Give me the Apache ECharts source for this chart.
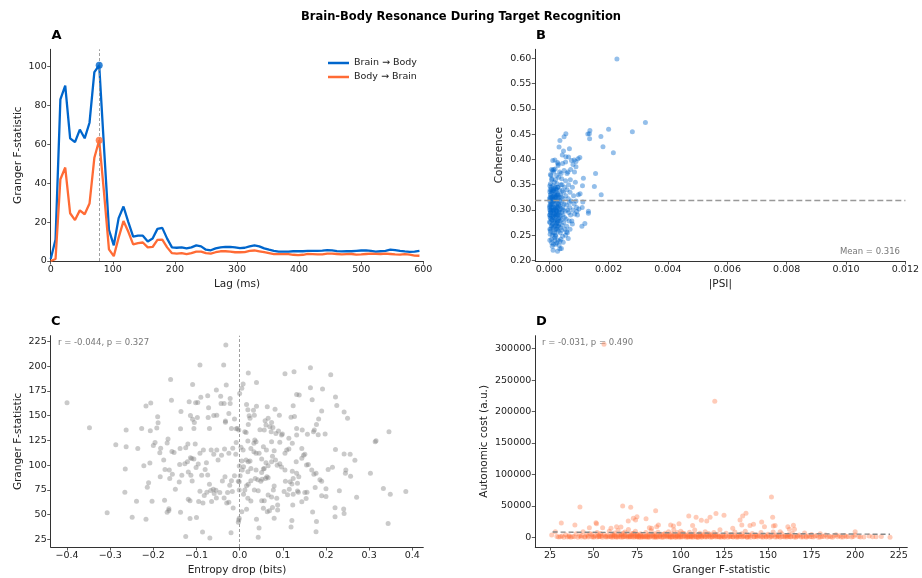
<!DOCTYPE html>
<html><head><meta charset="utf-8">
<script src="https://cdn.jsdelivr.net/npm/echarts@6/dist/echarts.min.js"></script>
<style>html,body{margin:0;padding:0;background:#fff}#c{width:922px;height:578px}</style>
</head><body><div id="c"></div>
<script>
// ---------- Panel A: Granger F-statistic by lag ----------
const lags = [0,7.8,15.6,23.4,31.3,39.1,46.9,54.7,62.5,70.3,78.1,85.9,93.8,101.6,109.4,117.2,125,132.8,140.6,148.4,156.3,164.1,171.9,179.7,187.5,195.3,203.1,210.9,218.8,226.6,234.4,242.2,250,257.8,265.6,273.4,281.3,289.1,296.9,304.7,312.5,320.3,328.1,335.9,343.8,351.6,359.4,367.2,375,382.8,390.6,398.4,406.3,414.1,421.9,429.7,437.5,445.3,453.1,460.9,468.8,476.6,484.4,492.2,500,507.8,515.6,523.4,531.3,539.1,546.9,554.7,562.5,570.3,578.1,585.9,593.8];
const brainToBody = [1,11,83,90,63,61,67.5,63,71,97,100.5,58,16,8,22,28,20,12.5,13,13,10,11.5,16.5,17,11.5,7,6.8,7,6.5,7,8,7.5,5.8,5.5,6.5,7,7.2,7.2,7,6.6,6.8,7.5,8,7.5,6.5,5.8,5.2,4.8,4.8,4.8,5,5,5,5.2,5.2,5.2,5.3,5.6,5.5,5.1,4.9,5,5,5.2,5.4,5.5,5.2,4.8,5,5.2,5.8,5.6,5.2,4.9,4.7,4.8,5.2];
const bodyToBrain = [0,1,42,48,24.5,21,26,24,29.5,53,62,35,6,2.5,12,20.5,15,8.5,9.2,9.5,7,7.2,10.8,11,7,4,3.8,4,3.5,4,4.8,4.8,4,3.8,4.5,5,5,4.8,4.5,4.5,4.6,5.2,5.4,5,4.5,4,3.5,3.5,3.5,3.5,3.2,3,3.2,3.6,3.5,3.4,3.4,3.8,3.8,3.6,3.4,3.5,3.6,3.3,3.4,3.6,3.8,3.7,3.6,3.8,3.6,3.4,3.3,3.5,3.3,2.8,2.7];
const seriesNames = ['Brain \u2192 Body', 'Body \u2192 Brain'];
const ticksAx = [0,100,200,300,400,500,600];
const ticksAy = [0,20,40,60,80,100];

// ---------- Panel B: |PSI| vs coherence ----------
const panelBPoints = [
[0.00228,0.5987],[0.00324,0.4733],[0.0028,0.4548],[0.002,0.46],[0.00135,0.4508],[0.0013,0.4502],[0.00137,0.4574],[0.00174,0.4455],[0.00136,0.4409],[0.00181,0.4251],[0.00216,0.4132],[0.00156,0.3723],[0.00152,0.3465],[0.00175,0.33],[0.00115,0.363],[0.0012,0.2733],[0.0011,0.268],[0.00132,0.2977],[0.00132,0.2937],[0.00112,0.3479],[0.00104,0.332],[0.00111,0.305],[0.00113,0.316],[0.00093,0.297],[0.001,0.3017],[0.00103,0.404],[0.00097,0.4013],[0.0009,0.396],[0.00084,0.3987],[0.0009,0.3855],[0.00056,0.4508],[0.0005,0.4449],[0.00036,0.4376],[0.00033,0.4244],[0.00068,0.4211],[0.00048,0.4165],[0.00056,0.4053],[0.00044,0.4086],[0.00019,0.3987],[0.0003,0.3908],
[0.00002,0.300],[0.00003,0.285],[0.00004,0.330],[0.00002,0.318],[0.00005,0.262],[0.00003,0.275],[0.00006,0.345],[0.00004,0.352],[0.00002,0.308],[0.00005,0.295],[0.00007,0.312],[0.00003,0.340],[0.00006,0.368],[0.00004,0.258],[0.00008,0.280],[0.00005,0.323],[0.00009,0.335],[0.00007,0.298],[0.00003,0.290],[0.00006,0.305],[0.00010,0.250],[0.00008,0.242],[0.00009,0.362],[0.00011,0.378],[0.00012,0.326],[0.00010,0.315],[0.00013,0.288],[0.00011,0.272],[0.00014,0.338],[0.00012,0.348],[0.00015,0.300],[0.00013,0.265],[0.00016,0.320],[0.00014,0.232],[0.00017,0.355],[0.00015,0.380],[0.00018,0.310],[0.00016,0.278],[0.00019,0.330],[0.00017,0.293],[0.00020,0.345],[0.00018,0.255],[0.00021,0.302],[0.00019,0.285],[0.00022,0.270],[0.00020,0.318],[0.00023,0.335],[0.00021,0.360],[0.00024,0.292],[0.00022,0.248],[0.00025,0.308],[0.00023,0.325],[0.00026,0.280],[0.00024,0.340],[0.00027,0.262],[0.00025,0.298],[0.00028,0.315],[0.00026,0.352],[0.00029,0.305],[0.00027,0.275],[0.00030,0.330],[0.00028,0.290],[0.00031,0.268],[0.00029,0.345],[0.00032,0.312],[0.00030,0.258],[0.00033,0.300],[0.00031,0.322],[0.00034,0.285],[0.00032,0.365],[0.00035,0.340],[0.00033,0.272],[0.00036,0.318],[0.00034,0.296],[0.00037,0.255],[0.00035,0.308],[0.00038,0.330],[0.00036,0.278],[0.00039,0.350],[0.00037,0.288],[0.00040,0.303],[0.00038,0.265],[0.00041,0.325],[0.00039,0.242],[0.00042,0.295],[0.00040,0.372],[0.00043,0.315],[0.00041,0.280],[0.00044,0.338],[0.00042,0.260],[0.00045,0.305],[0.00043,0.350],[0.00046,0.290],[0.00044,0.270],[0.00047,0.322],[0.00045,0.248],[0.00048,0.335],[0.00046,0.300],[0.00050,0.312],[0.00049,0.275],[0.00052,0.345],[0.00051,0.285],[0.00054,0.298],[0.00053,0.262],[0.00056,0.328],[0.00055,0.358],[0.00058,0.310],[0.00057,0.282],[0.00060,0.340],[0.00059,0.268],[0.00062,0.300],[0.00061,0.255],[0.00064,0.322],[0.00063,0.375],[0.00066,0.295],[0.00065,0.350],[0.00068,0.315],[0.00067,0.278],[0.00070,0.335],[0.00069,0.305],[0.00072,0.290],[0.00071,0.360],[0.00074,0.318],[0.00076,0.278],[0.00078,0.345],[0.00080,0.300],[0.00082,0.328],[0.00084,0.312],[0.00086,0.292],[0.00088,0.355],[0.00090,0.318],[0.00092,0.305],[0.00095,0.290],[0.00098,0.330],
[0.00001,0.322],[0.00002,0.336],[0.00001,0.290],[0.00003,0.310],[0.00001,0.276],[0.00002,0.262],[0.00004,0.300],[0.00002,0.348],[0.00001,0.305],[0.00003,0.325],[0.00005,0.283],[0.00002,0.240],[0.00004,0.370],[0.00006,0.332],[0.00003,0.252],[0.00005,0.315],[0.00007,0.268],[0.00004,0.295],[0.00008,0.325],[0.00006,0.288],[0.00009,0.305],[0.00007,0.340],[0.00010,0.280],[0.00008,0.360],[0.00011,0.298],[0.00009,0.270],[0.00012,0.312],[0.00010,0.338],[0.00013,0.255],[0.00011,0.322],[0.00014,0.295],[0.00012,0.285],[0.00015,0.342],[0.00013,0.305],[0.00016,0.268],[0.00014,0.318],[0.00017,0.290],[0.00015,0.328],[0.00018,0.245],[0.00016,0.300],[0.00019,0.275],[0.00017,0.338],[0.00020,0.262],[0.00018,0.325],[0.00021,0.290],[0.00019,0.305],[0.00022,0.328],[0.00020,0.280],[0.00023,0.300],[0.00021,0.250],[0.00024,0.318],[0.00022,0.342],[0.00025,0.272],[0.00023,0.288],[0.00026,0.330],[0.00024,0.262],[0.00027,0.305],[0.00025,0.235],[0.00028,0.345],[0.00026,0.298],[0.00029,0.278],[0.00027,0.322],[0.00030,0.290],[0.00028,0.268],[0.00031,0.310],[0.00029,0.332],[0.00032,0.282],[0.00030,0.240],[0.00033,0.325],[0.00031,0.295],
[0.00013,0.2205],[0.00028,0.2185],[0.00036,0.223],[0.00041,0.2238],[0.00019,0.240],[0.00036,0.238],[0.00064,0.2436],[0.00058,0.2568],[0.00010,0.228],[0.00022,0.232],[0.00033,0.230],[0.00008,0.235],[0.00047,0.236],[0.00055,0.250],[0.00070,0.262],[0.00078,0.272],
[0.00008,0.380],[0.00015,0.375],[0.00020,0.381],[0.00025,0.368],[0.00030,0.388],[0.00035,0.375],[0.00042,0.362],[0.00050,0.378],[0.00055,0.395],[0.00060,0.372],[0.00072,0.380],[0.00080,0.390],[0.00085,0.375],[0.00075,0.398],[0.00065,0.405],[0.00045,0.392],[0.00012,0.398],[0.00028,0.394]
];
const coherenceMean = 0.316;
const ticksBx = [0,0.002,0.004,0.006,0.008,0.010,0.012];
const ticksBy = [0.20,0.25,0.30,0.35,0.40,0.45,0.50,0.55,0.60];

// ---------- Panel C: entropy drop vs Granger F ----------
const panelCPoints = [
[-0.032,221.3],[-0.092,201],[-0.037,201],[-0.16,186.5],[-0.109,181.5],[-0.054,175.8],[-0.031,180.8],[-0.4,163],[-0.217,159.6],[-0.206,162.6],[-0.158,165.6],[-0.117,164],[-0.102,163],[-0.097,163.3],[-0.09,168.4],[-0.074,170],[-0.043,162.3],[-0.036,162.3],[-0.022,162.3],[-0.022,167.3],[-0.044,169.4],[-0.19,148.8],[-0.189,142.7],[-0.136,154],[-0.114,150],[-0.109,146.2],[-0.105,143.1],[-0.098,148],[-0.072,158],[-0.073,148],[-0.06,150],[-0.053,150.2],[-0.033,144.6],[-0.033,143.2],[-0.025,152.2],[-0.012,146.5],[-0.348,137.7],[-0.263,135.3],[-0.227,137],[-0.207,134.7],[-0.192,137.4],[-0.137,136.7],[-0.106,137],[-0.07,137],[-0.019,137],[-0.008,136.7],[-0.287,120.5],[-0.263,118.6],[-0.236,116.8],[-0.265,96],[-0.266,72.5],[-0.307,51.8],[-0.249,47.3],[-0.217,45.3],[-0.222,99.4],[-0.208,102],[-0.211,82],[-0.214,77.6],[-0.203,63.4],[-0.239,63.4],[-0.196,122.7],[-0.2,119.7],[-0.183,117],[-0.168,122.3],[-0.166,126.4],[-0.185,112.4],[-0.176,105.2],[-0.157,113.7],[-0.152,112.7],[-0.138,116.8],[-0.125,117.5],[-0.12,121.2],[-0.103,121.2],[-0.139,100.6],[-0.127,101.4],[-0.121,103.4],[-0.114,107.4],[-0.111,106.5],[-0.106,106],[-0.096,101],[-0.092,111.8],[-0.084,115.1],[-0.077,102.4],[-0.066,115.1],[-0.06,111],[-0.053,115.1],[-0.05,105],[-0.042,110],[-0.035,116.3],[-0.025,111.9],[-0.016,117],[-0.009,110.9],[-0.008,122.9],[-0.005,137],[-0.173,95.6],[-0.163,94.9],[-0.162,86.5],[-0.184,88.1],[-0.156,90.7],[-0.149,75.5],[-0.14,82.8],[-0.134,89.6],[-0.119,93],[-0.119,65.4],[-0.113,89.6],[-0.11,84],[-0.101,97.5],[-0.092,73.5],[-0.088,89.6],[-0.08,95.6],[-0.076,72.5],[-0.074,89.9],[-0.07,80.6],[-0.067,74.2],[-0.061,75.6],[-0.055,74.6],[-0.046,72.3],[-0.04,83.8],[-0.034,88.2],[-0.028,72.3],[-0.023,79.7],[-0.017,73.4],[-0.012,89.2],[-0.019,84.2],[-0.003,83.7],[-0.174,64.5],[-0.164,55.8],[-0.168,52.4],[-0.164,54.1],[-0.137,52.4],[-0.115,64],[-0.115,46.1],[-0.1,47],[-0.095,63.2],[-0.085,61.7],[-0.082,69.2],[-0.065,63.2],[-0.059,71.2],[-0.054,66.8],[-0.036,66.8],[-0.03,61.7],[-0.025,62.3],[-0.015,56.6],[-0.086,32.4],[-0.069,26.4],[-0.125,27.8],[-0.02,31.7],[-0.002,44.5],
[0.02,193],[0.105,192.3],[0.126,194.3],[0.164,198.4],[0.211,191.3],[0.039,183.5],[0.008,181.9],[0.005,177.5],[0,172.4],[0.132,171.4],[0.138,170.7],[0.164,178.1],[0.192,176.8],[0.168,166],[0.222,168.7],[0.225,160.2],[0.124,159.9],[0.016,161.3],[0.019,156],[0.032,155.5],[0.039,159.5],[0.064,158.8],[0.082,156.5],[0.19,154.5],[0.242,153.5],[0.25,147.4],[0.119,148.4],[0.127,149.1],[0.092,150.4],[0.022,149.8],[0.034,150.4],[0.024,147.2],[0.059,144.8],[0.066,147.2],[0.074,143.1],[0.061,140.4],[0.07,138.8],[0.077,138],[0.183,146.5],[0.178,141.1],[0.173,135.4],[0.171,133.7],[0.198,131.4],[0.182,130.7],[0.132,137],[0.145,135.4],[0.157,131],[-0.002,135.4],[0.02,141.1],[0.015,132.8],[0.012,133.6],[0.047,135.6],[0.057,135.4],[0.073,133.7],[0.084,132],[0.09,134.4],[0.097,130.4],[0.099,131.4],[0.114,127],[0.132,130.4],[0.122,122],[0.093,123],[0.074,123.6],[0.035,125.2],[0.038,123.6],[0.033,122],[0.019,124.2],[0.003,117.9],[0.008,115.1],[0.026,116.8],[0.055,118.5],[0.062,115.1],[0.08,114.5],[0.109,115.1],[0.114,116.1],[0.105,111.9],[0.144,116.8],[0.148,110],[0.222,115.8],[0.242,111.2],[0.256,110.8],[0.267,104.8],[0.314,123.6],[0.316,124.5],[0.346,133.7],[0.303,91.6],[0.333,76.4],[0.349,70.4],[0.385,73.4],[0.344,41],[0.271,67.4],[0.257,88.6],[0.245,91.6],[0.246,94.9],[0.231,74],[0.241,55.5],[0.242,51.1],[0.221,56.8],[0.221,47.7],[0.215,97.7],[0.205,95.6],[0.2,76.1],[0.19,83.6],[0.186,85.1],[0.175,77.3],[0.19,68.9],[0.2,68.2],[0.172,90.6],[0.177,91.6],[0.167,95],[0.155,100],[0.159,100.6],[0.151,110.8],[0.144,106.8],[0.131,103.4],[0.132,91.6],[0.137,88.2],[0.134,81.6],[0.122,93.8],[0.124,86.5],[0.121,80.9],[0.117,83.1],[0.115,75.6],[0.134,73.8],[0.136,72.5],[0.151,72.2],[0.156,72.5],[0.154,66.1],[0.144,63],[0.124,70.6],[0.111,70],[0.103,73.4],[0.106,83.7],[0.105,94.9],[0.097,98],[0.093,101.4],[0.087,99.8],[0.083,105],[0.076,108.9],[0.074,103.4],[0.066,99.4],[0.061,102.4],[0.057,96.6],[0.051,106],[0.045,111.8],[0.038,111.8],[0.033,113.5],[0.024,104.1],[0.02,103.4],[0.015,105],[0.005,104.1],[-0.001,99.1],[0.009,98.4],[0.006,95],[0.019,93.3],[0.026,96.6],[0.038,95],[0.051,92.6],[0.055,96],[0.063,88.2],[0.066,87.2],[0.06,86.3],[0.052,85.7],[0.049,83.6],[0.042,85.1],[0.036,86.5],[0.026,84.2],[0.02,80.6],[0.016,79.1],[0.001,89.3],[-0.001,83.1],[0.012,74.9],[-0.001,74.9],[0.009,70.6],[0.019,66.4],[0.026,63.7],[0.034,74.9],[0.043,74],[0.051,63.9],[0.057,63.9],[0.066,69.7],[0.074,67.8],[0.078,74.9],[0.08,78.8],[0.086,66.4],[0.088,59.6],[0.076,57],[0.069,53.9],[0.064,52.9],[0.055,56.3],[0.08,46.3],[0.121,44],[0.119,37.5],[0.039,45.2],[0.045,36.3],[0.043,27],[-0.001,46.3],[-0.003,42.3],[0.169,52.5],[0.178,43],[0.177,32.6],[0.016,55.4],[0.005,52.9],[0.088,54.5],[0.123,59.6]
];
const ticksCx = [-0.4,-0.3,-0.2,-0.1,0,0.1,0.2,0.3,0.4];
const ticksCy = [25,50,75,100,125,150,175,200,225];
const statsC = 'r = -0.044, p = 0.327';

// ---------- Panel D: Granger F vs autonomic cost ----------
const panelDPoints = [
[56,307000],[119.5,216400],[152,64200],[42.2,48300],[66.7,49900],[71.3,47700],[85.6,42400],[31.5,22800],[39.3,19600],[47.6,15400],[51.4,23300],[51.7,21700],[55.2,15400],[60,14300],[63.2,17000],[65.7,16400],[69.9,26000],[72.8,30200],[74.9,32900],[74.1,27600],[80.1,29700],[82,15400],[83.3,14300],[87.2,19600],[86.2,17000],[94.2,19600],[95.8,18000],[99,21700],[104.6,33900],[108.8,31800],[106.8,18600],[111.8,27000],[114.9,26000],[116.8,31800],[120.2,37700],[124.8,35000],[122.5,12200],[129.8,14300],[134,27600],[135.5,33900],[137.4,38200],[135,19600],[139.7,18600],[141.7,20700],[146.4,24400],[148,17000],[152.7,31800],[153.1,18000],[154.1,18600],[157,9000],[161.4,17000],[162.3,12700],[164.6,19100],[165.2,12700],[200,9000],[220,0],[26,3700],[28.1,9000],
[29,1500],[31,800],[33,200],[34,4000],[35,600],[36,2500],[37,300],[38,1200],[40,5500],[41,300],[42,2000],[43,700],[44,9000],[45,1500],[46,3500],[47,400],[48,6000],[49,1000],[50,200],[51,2500],[52,7500],[53,800],[53,3500],[54,1500],[55,300],[56,5000],[57,1800],[58,600],[59,9500],[60,2200],[60,400],[61,4500],[62,1200],[62,7000],[63,300],[64,2800],[64,11000],[65,900],[66,5000],[66,200],[67,1500],[68,3500],[68,8500],[69,600],[70,2000],[70,12500],[71,400],[72,4000],[72,1000],[73,6500],[73,200],[74,2500],[74,9500],[75,700],[75,3500],[76,1500],[76,300],[77,5500],[78,1000],[78,2800],[79,400],[80,7500],[80,1800],[81,300],[82,4500],[82,1200],[83,10500],[84,600],[84,2500],[85,5500],[86,300],[86,1500],[87,8000],[88,3500],[88,800],[89,200],[90,4500],[90,1500],[91,6500],[92,400],[92,2200],[93,9000],[94,1000],[94,3500],[95,300],[95,5500],[96,1800],[96,12000],[97,600],[98,2500],[98,7500],[99,300],[99,4000],[100,1200],[100,9500],[101,500],[102,2800],[102,6000],[103,200],[104,3800],[104,1000],[105,8000],[106,400],[106,2200],[107,5000],[108,1500],[108,11500],[109,300],[110,3500],[110,700],[111,6500],[112,2000],[112,300],[113,4500],[114,1200],[114,9000],[115,500],[116,2800],[116,6000],[117,200],[118,3500],[118,1000],[119,7500],[120,400],[120,2000],[121,5000],[122,1500],[123,300],[124,3000],[125,800],[126,6500],[127,200],[128,2200],[129,4500],[130,1000],[131,8500],[132,300],[133,3000],[134,1500],[135,5500],[135,400],[136,2200],[137,9500],[138,700],[139,3500],[140,200],[141,6000],[142,1200],[143,4000],[144,500],[145,2500],[146,7500],[147,300],[148,3200],[149,1000],[150,5000],[151,200],[152,2000],[153,8500],[154,600],[155,3500],[156,1500],[157,300],[158,5500],[159,1000],[160,2500],[161,400],[162,4500],[162,1500],[163,700],[164,6500],[165,2200],[166,300],[167,1200],[168,3800],[169,500],[170,2000],[171,7000],[172,300],[173,2500],[174,1000],[175,4500],[176,600],[178,2800],[179,300],[180,5500],[181,1200],[183,3500],[184,600],[185,1800],[187,300],[189,4000],[190,1000],[191,2500],[193,500],[194,3000],[196,1200],[198,600],[200,3500],[202,1500],[205,400],[208,2200],[212,800],[215,1500],
[30,500],[32,2000],[36,1000],[39,800],[43,3000],[45,200],[47,2200],[49,4500],[50,1200],[52,500],[53,1800],[54,6000],[55,2500],[57,400],[58,3000],[59,1200],[61,200],[61,2500],[62,3800],[63,1500],[64,500],[65,4200],[66,2800],[67,400],[67,6500],[68,1200],[69,2500],[70,500],[71,3200],[71,1500],[72,6000],[73,2000],[74,800],[75,4800],[75,1500],[76,2500],[77,200],[77,3000],[78,600],[79,2000],[80,500],[81,3800],[81,1200],[82,200],[83,2200],[84,4500],[85,1200],[85,300],[86,3000],[87,700],[88,2000],[89,5000],[90,300],[91,1800],[92,4000],[93,800],[93,2500],[94,200],[95,1500],[96,4200],[97,2800],[97,200],[98,1000],[99,2000],[100,400],[100,3500],[101,6800],[102,1500],[103,2500],[104,600],[105,3000],[105,500],[106,1500],[107,300],[107,2500],[108,4500],[109,1200],[110,200],[111,2000],[111,4000],[112,800],[113,2500],[114,400],[115,3500],[116,1200],[117,4000],[118,600],[119,2200],[120,3500],[121,800],[122,400],[123,2000],[124,1200],[125,300],[126,2500],[128,800],[129,1500],[130,400],[131,2800],[132,1200],[133,500],[134,4000],[136,800],[137,2000],[138,300],[139,1000],[140,3000],[142,400],[143,1500],[144,2500],[146,800],[147,1800],[149,400],[150,2500],[152,800],[153,3500],[155,600],[156,2500],[158,1500],[160,400],[161,3000],[163,1500],[165,600],[167,2500],[170,500],[172,1500],[175,800],[177,2000],[180,500],[182,1500],[186,800],[188,2000],[192,500],[195,1000],[199,1500],[203,500],[210,1000]
];
const fitX = [26.5, 220];
const fitY = [8400, 4800];
const ticksDx = [25,50,75,100,125,150,175,200,225];
const ticksDy = [0,50000,100000,150000,200000,250000,300000];
const statsD = 'r = -0.031, p = 0.490';

// ---------- chart ----------
const FONT = 'DejaVu Sans';
const BLUE = '#0066CC', ORANGE = '#FF6B35';
const minus = s => String(s).replace('-', '\u2212');

function axis(gi, min, max, ticks, fmt, name, gap) {
  return {
    type: 'value', gridIndex: gi, min: min, max: max,
    name: name, nameLocation: 'middle', nameGap: gap,
    nameTextStyle: {fontSize: 10.5, color: '#222', fontFamily: FONT},
    axisLine: {show: true, onZero: false, lineStyle: {color: '#333', width: 1}},
    axisTick: {show: true, length: 3.5, customValues: ticks, lineStyle: {color: '#333', width: 0.8}},
    axisLabel: {customValues: ticks, formatter: fmt, fontSize: 9.5, color: '#222', fontFamily: FONT, margin: 4},
    splitLine: {show: false}
  };
}

const iPeakBB = brainToBody.indexOf(Math.max(...brainToBody));
const iPeakBr = bodyToBrain.indexOf(Math.max(...bodyToBrain));

const option = {
  animation: false,
  backgroundColor: '#fff',
  title: {text: 'Brain-Body Resonance During Target Recognition', left: 'center', top: 6,
    textStyle: {fontSize: 11.5, fontWeight: 'bold', color: '#000', fontFamily: FONT}},
  legend: {data: seriesNames, orient: 'vertical', left: 323, top: 53, icon: 'rect',
    itemWidth: 21, itemHeight: 2.5, itemGap: 4,
    textStyle: {fontSize: 9.5, color: '#222', fontFamily: FONT}},
  grid: [
    {left: 50.7, top: 49.3, width: 372.6, height: 211.7},
    {left: 535.3, top: 49.3, width: 372, height: 211.7},
    {left: 50.7, top: 335.7, width: 372.6, height: 211.3},
    {left: 535.3, top: 335.7, width: 372, height: 211.3}
  ],
  xAxis: [
    axis(0, 0, 600, ticksAx, v => String(v), 'Lag (ms)', 18),
    axis(1, -0.00047, 0.012, ticksBx, v => v.toFixed(3), '|PSI|', 18),
    axis(2, -0.4378, 0.4255, ticksCx, v => minus(v.toFixed(1)), 'Entropy drop (bits)', 18),
    axis(3, 16.6, 229.9, ticksDx, v => String(v), 'Granger F-statistic', 18)
  ],
  yAxis: [
    axis(0, 0, 108.7, ticksAy, v => String(v), 'Granger F-statistic', 27),
    axis(1, 0.199, 0.618, ticksBy, v => v.toFixed(2), 'Coherence', 31),
    axis(2, 17.2, 230.7, ticksCy, v => String(v), 'Granger F-statistic', 27),
    axis(3, -15400, 320700, ticksDy, v => String(v), 'Autonomic cost (a.u.)', 46)
  ],
  graphic: [
    {type: 'text', left: 51.5, top: 29.5, style: {text: 'A', font: 'bold 13px "DejaVu Sans"', fill: '#000'}},
    {type: 'text', left: 536, top: 29.5, style: {text: 'B', font: 'bold 13px "DejaVu Sans"', fill: '#000'}},
    {type: 'text', left: 51, top: 315, style: {text: 'C', font: 'bold 13px "DejaVu Sans"', fill: '#000'}},
    {type: 'text', left: 536, top: 315, style: {text: 'D', font: 'bold 13px "DejaVu Sans"', fill: '#000'}},
    {type: 'text', right: 22, top: 247.5, style: {text: 'Mean = ' + coherenceMean.toFixed(3), font: '8.5px "DejaVu Sans"', fill: '#777'}},
    {type: 'text', left: 58, top: 338, style: {text: statsC, font: '8.5px "DejaVu Sans"', fill: '#777'}},
    {type: 'text', left: 542, top: 338, style: {text: statsD, font: '8.5px "DejaVu Sans"', fill: '#777'}}
  ],
  series: [
    {name: seriesNames[0], type: 'line', xAxisIndex: 0, yAxisIndex: 0, symbol: 'none',
      data: lags.map((l, i) => [l, brainToBody[i]]), lineStyle: {color: BLUE, width: 2.3}, itemStyle: {color: BLUE},
      markLine: {silent: true, symbol: ['none', 'none'], label: {show: false},
        lineStyle: {color: '#888', type: [3, 2], width: 0.8}, data: [{xAxis: lags[iPeakBB]}]}},
    {name: seriesNames[1], type: 'line', xAxisIndex: 0, yAxisIndex: 0, symbol: 'none',
      data: lags.map((l, i) => [l, bodyToBrain[i]]), lineStyle: {color: ORANGE, width: 2.3}, itemStyle: {color: ORANGE}},
    {type: 'scatter', xAxisIndex: 0, yAxisIndex: 0, symbolSize: 7, z: 5,
      data: [{value: [lags[iPeakBB], brainToBody[iPeakBB]], itemStyle: {color: BLUE}},
             {value: [lags[iPeakBr], bodyToBrain[iPeakBr]], itemStyle: {color: ORANGE}}]},
    {type: 'scatter', xAxisIndex: 1, yAxisIndex: 1, symbolSize: 5, data: panelBPoints,
      itemStyle: {color: BLUE, opacity: 0.42},
      markLine: {silent: true, symbol: ['none', 'none'], label: {show: false},
        lineStyle: {color: '#999', type: [6, 3], width: 1.4, opacity: 1}, data: [{yAxis: coherenceMean}]}},
    {type: 'scatter', xAxisIndex: 2, yAxisIndex: 2, symbolSize: 5, data: panelCPoints,
      itemStyle: {color: '#808080', opacity: 0.42},
      markLine: {silent: true, symbol: ['none', 'none'], label: {show: false},
        lineStyle: {color: '#888', type: [3, 2], width: 0.8}, data: [{xAxis: 0}]}},
    {type: 'scatter', xAxisIndex: 3, yAxisIndex: 3, symbolSize: 5, data: panelDPoints,
      itemStyle: {color: ORANGE, opacity: 0.35}},
    {type: 'line', xAxisIndex: 3, yAxisIndex: 3, symbol: 'none', z: 4,
      data: fitX.map((x, i) => [x, fitY[i]]), lineStyle: {color: '#888', type: [5, 3], width: 1.4}}
  ]
};
echarts.init(document.getElementById('c'), null, {renderer: 'canvas'}).setOption(option);
</script>
</body></html>
